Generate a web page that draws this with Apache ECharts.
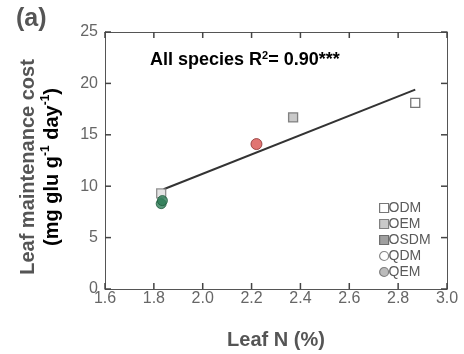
<!DOCTYPE html>
<html>
<head>
<meta charset="utf-8">
<script src="https://cdn.jsdelivr.net/npm/echarts@6/dist/echarts.min.js"></script>
<style>
html,body{margin:0;padding:0;background:#fff;}
#chart{width:464px;height:354px;}
</style>
</head>
<body>
<div id="chart"></div>
<script>
// ---- data ----
const xTicks = [1.6, 1.8, 2.0, 2.2, 2.4, 2.6, 2.8, 3.0];
const yTicks = [0, 5, 10, 15, 20, 25];
const legendNames = ['ODM', 'OEM', 'OSDM', 'QDM', 'QEM'];
const odmPts  = [[2.87, 18.1]];
const oemPts  = [[2.37, 16.7]];
const osdmPts = [[1.83, 9.3]];
const qdmPts  = [[2.22, 14.1]];
const qemPts  = [[1.83, 8.3], [1.835, 8.6]];
const regX = [1.84, 2.87];
const regY = [9.7, 19.4];

const chart = echarts.init(document.getElementById('chart'));
const FONT = 'Liberation Sans, Arial, sans-serif';
const AX = '#555';
const TICK_LEN = 6;
const xMin = xTicks[0], xMax = xTicks[xTicks.length - 1];
const yMin = yTicks[0], yMax = yTicks[yTicks.length - 1];

function mkAxis(position, min, max, interval, showLabels, labelMargin, fmt) {
  return {
    type: 'value', position: position, min: min, max: max, interval: interval,
    axisLine: {show: true, onZero: false, lineStyle: {color: AX, width: 1}},
    axisTick: {show: false},
    splitLine: {show: false},
    axisLabel: showLabels ? {show: true, margin: labelMargin, color: '#666', fontSize: 16,
      fontFamily: FONT, formatter: fmt} : {show: false}
  };
}

// inward ticks on all four sides, placed through the axes' own scales
function tickSeries(values, isX) {
  return {
    type: 'custom', silent: true, clip: false, z: 2, legendHoverLink: false,
    data: values.map(v => isX ? [v, yMin] : [xMin, v]),
    renderItem: function (params, api) {
      const v = api.value(isX ? 0 : 1);
      const a = isX ? api.coord([v, yMin]) : api.coord([xMin, v]);
      const b = isX ? api.coord([v, yMax]) : api.coord([xMax, v]);
      const st = {stroke: '#444', lineWidth: 1.5};
      const l1 = isX ? {x1: a[0], y1: a[1], x2: a[0], y2: a[1] - TICK_LEN}
                     : {x1: a[0], y1: a[1], x2: a[0] + TICK_LEN, y2: a[1]};
      const l2 = isX ? {x1: b[0], y1: b[1], x2: b[0], y2: b[1] + TICK_LEN}
                     : {x1: b[0], y1: b[1], x2: b[0] - TICK_LEN, y2: b[1]};
      return {type: 'group', children: [
        {type: 'line', shape: l1, style: st},
        {type: 'line', shape: l2, style: st}
      ]};
    }
  };
}

const option = {
  backgroundColor: '#fff',
  animation: false,
  grid: {left: 105, right: 17, top: 32, bottom: 65},
  xAxis: [
    mkAxis('bottom', xMin, xMax, 0.2, true, 2, v => v.toFixed(1)),
    mkAxis('top', xMin, xMax, 0.2, false)
  ],
  yAxis: [
    mkAxis('left', yMin, yMax, 5, true, 7, v => String(v)),
    mkAxis('right', yMin, yMax, 5, false)
  ],
  legend: {
    orient: 'vertical', left: 379, top: 201, itemWidth: 9, itemHeight: 9, itemGap: 2,
    padding: 0,
    textStyle: {color: '#5a5a5a', fontSize: 14, lineHeight: 14, fontFamily: FONT, padding: [0, 0, 0, -5]},
    data: [
      {name: 'ODM', icon: 'rect', itemStyle: {color: '#fff', borderColor: '#555', borderWidth: 1.2}},
      {name: 'OEM', icon: 'rect', itemStyle: {color: '#bbb', borderColor: '#666', borderWidth: 1.2}},
      {name: 'OSDM', icon: 'rect', itemStyle: {color: '#888', borderColor: '#555', borderWidth: 1.2}},
      {name: 'QDM', icon: 'circle', itemStyle: {color: '#fff', borderColor: '#666', borderWidth: 1.2}},
      {name: 'QEM', icon: 'circle', itemStyle: {color: '#aaa', borderColor: '#666', borderWidth: 1.2}}
    ]
  },
  series: [
    tickSeries(xTicks, true),
    tickSeries(yTicks, false),
    {name: 'regression', type: 'line', data: regX.map((x, i) => [x, regY[i]]),
     symbol: 'none', lineStyle: {color: '#333', width: 2}, z: 3},
    {name: 'ODM', type: 'scatter', data: odmPts, symbol: 'rect', symbolSize: 9,
     itemStyle: {color: '#fff', borderColor: '#555', borderWidth: 1.3}, z: 4},
    {name: 'OEM', type: 'scatter', data: oemPts, symbol: 'rect', symbolSize: 9,
     itemStyle: {color: '#bbb', borderColor: '#666', borderWidth: 1.3}, z: 4},
    {name: 'OSDM', type: 'scatter', data: osdmPts, symbol: 'rect', symbolSize: 9,
     itemStyle: {color: '#ddd', borderColor: '#777', borderWidth: 1.3}, z: 4},
    {name: 'QDM', type: 'scatter', data: qdmPts, symbol: 'circle', symbolSize: 11,
     itemStyle: {color: '#d9534f', borderColor: '#8a3030', borderWidth: 1}, z: 4},
    {name: 'QEM', type: 'scatter', data: qemPts, symbol: 'circle', symbolSize: 10,
     itemStyle: {color: '#2e7d57', borderColor: '#1e5a3c', borderWidth: 1}, z: 5}
  ],
  graphic: [
    {type: 'text', left: 16, top: 7,
     style: {text: '(a)', font: 'bold 25px ' + FONT, fill: '#555'}},
    {type: 'text', x: 150, y: 60,
     style: {
       text: '{n|All species R}{s|2}{n|= 0.90***}',
       textVerticalAlign: 'middle',
       rich: {
         n: {font: 'bold 18px ' + FONT, color: '#555', lineHeight: 20},
         s: {font: 'bold 11px ' + FONT, color: '#555', verticalAlign: 'top', lineHeight: 20}
       }
     }},
    {type: 'text', x: 28, y: 167, rotation: Math.PI / 2,
     style: {
       text: 'Leaf maintenance cost',
       font: 'bold 20px ' + FONT, fill: '#555',
       textAlign: 'center', textVerticalAlign: 'middle'
     }},
    {type: 'text', x: 52, y: 167, rotation: Math.PI / 2,
     style: {
       text: '{n|(mg glu g}{s|-1}{n| day}{s|-1}{n|)}',
       textAlign: 'center', textVerticalAlign: 'middle',
       rich: {
         n: {font: 'bold 20px ' + FONT, color: '#555', lineHeight: 24},
         s: {font: 'bold 12px ' + FONT, color: '#555', verticalAlign: 'top', lineHeight: 24}
       }
     }},
    {type: 'text', x: 276, y: 340,
     style: {text: 'Leaf N (%)', font: 'bold 20px ' + FONT, fill: '#555',
       textAlign: 'center', textVerticalAlign: 'middle'}}
  ]
};
chart.setOption(option);
</script>
</body>
</html>
